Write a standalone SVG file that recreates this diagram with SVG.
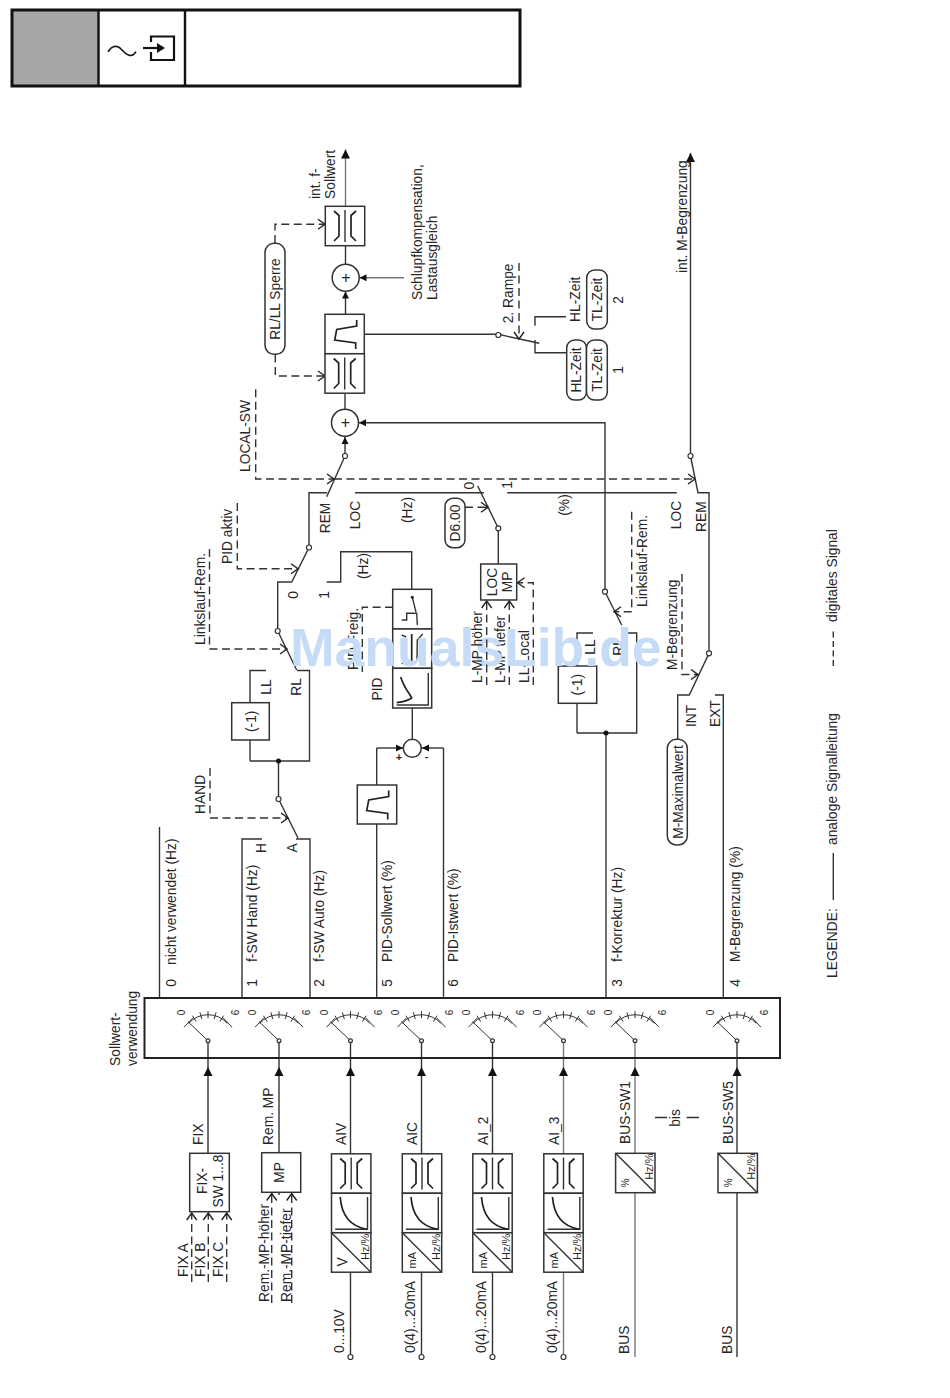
<svg xmlns="http://www.w3.org/2000/svg" width="950" height="1398" viewBox="0 0 950 1398">
<style>
text{font-family:"Liberation Sans",Arial,sans-serif;font-size:13.8px;fill:#262626}
.m{text-anchor:middle}
.s11{font-size:11px}.s10{font-size:10px}
.l,.d,.b,.k{fill:none;stroke:#333;stroke-width:1.4}
.g{stroke:#777}
.d{stroke-dasharray:8 4.5;stroke:#333}
.b{fill:#fff;stroke:#333;stroke-width:1.5}
.k{stroke-width:1.7;stroke:#222}
.o{fill:#fff;stroke:#333;stroke-width:1.2}
.wm{font-weight:bold;font-size:53.5px;fill:#c6dcf6}
</style>
<defs>
<marker id="af" markerUnits="userSpaceOnUse" markerWidth="10" markerHeight="10" refX="9" refY="5" orient="auto"><path d="M0,.5L9,5L0,9.5Z" fill="#111"/></marker>
<marker id="as" markerUnits="userSpaceOnUse" markerWidth="8" markerHeight="8" refX="7" refY="4" orient="auto"><path d="M0,.5L7,4L0,7.5Z" fill="#111"/></marker>
<marker id="ao" markerUnits="userSpaceOnUse" markerWidth="12" markerHeight="12" refX="9" refY="6" orient="auto"><path d="M2,1L9,6L2,11" fill="none" stroke="#222" stroke-width="1.4"/></marker>
<g id="sel">
<path class="l" d="M-19.3,-17.4A26,26 0 0 1 19.3,-17.4M0,0L-20,-19M-11.9,-19.1L-15.6,-25M-6.2,-21.6L-8.1,-28.4M0,-22.5V-29.5M6.2,-21.6L8.1,-28.4M11.9,-19.1L15.6,-25M-24,-13.500L-15,-23M24,-13.500L15,-23" style="stroke-width:1"/>
<circle class="o" r="1.9"/>
</g>
<g id="valve"><rect class="b" x="-19.7" y="-19.7" width="39.4" height="39.4"/><path class="k" d="M-11,-15L-6,-10.5V10L-11,15M11,-15L6,-10.5V10L11,15"/><path class="l" d="M0,-16V16"/></g>
<g id="curve"><rect class="b" x="-19.7" y="-19.7" width="39.4" height="39.4"/><path class="l" d="M16.3,-16V16.3H-16"/><path class="k" d="M-11,-16Q-9,12 15.7,16.3"/></g>
<g id="conv"><rect class="b" x="-19.7" y="-19.7" width="39.4" height="39.4"/><path class="l" d="M-19.7,-19.7L19.7,19.7"/></g>
<path id="ramp" class="k" d="M12,-14V-8L-8,-4.5L-10,6L11,9V15"/>
</defs>

<g id="header">
<rect x="12" y="10" width="86.5" height="76" fill="#a6a6a6"/>
<rect x="12" y="10" width="508" height="76" fill="none" stroke="#111" stroke-width="3"/>
<path d="M98.5,10V86M185,10V86" fill="none" stroke="#111" stroke-width="2.4"/>
<path d="M108,51.7C112,46 116,45 120,48C125,53 131,60 136,51.7" fill="none" stroke="#111" stroke-width="1.6"/>
<path d="M151,42V36.5H174V60H151V52" fill="none" stroke="#111" stroke-width="2.2"/>
<path d="M143,48H160" fill="none" stroke="#111" stroke-width="2.2"/><path d="M157,43L165,48L157,53Z" fill="#111"/>
</g>

<g id="connectors">
<path class="l" marker-end="url(#af)" d="M208,1153V1067"/><path class="l" d="M208,1067V1042"/>
<path class="l" marker-end="url(#af)" d="M279,1153V1067"/><path class="l" d="M279,1067V1042"/>
<path class="l" marker-end="url(#af)" d="M350.500,1154V1067"/><path class="l" d="M350.500,1067V1042"/>
<path class="l" marker-end="url(#af)" d="M421.500,1154V1067"/><path class="l" d="M421.500,1067V1042"/>
<path class="l" marker-end="url(#af)" d="M492.500,1154V1067"/><path class="l" d="M492.500,1067V1042"/>
<path class="l g" marker-end="url(#af)" d="M563.500,1154V1067"/><path class="l g" d="M563.500,1067V1042"/>
<path class="l g" marker-end="url(#af)" d="M635,1154V1067"/><path class="l g" d="M635,1067V1042"/>
<path class="l" marker-end="url(#af)" d="M737,1154V1067"/><path class="l" d="M737,1067V1042"/>
<path class="l" d="M350.500,1272V1355M421.500,1272V1355M492.500,1272V1355"/><path class="l g" d="M563.500,1272V1355M635,1193V1357"/><path class="l" d="M737,1193V1357"/>
<circle class="o" cx="350.500" cy="1357" r="2.500"/><circle class="o" cx="421.500" cy="1357" r="2.500"/><circle class="o" cx="492.500" cy="1357" r="2.500"/><circle class="o" cx="563.500" cy="1357" r="2.500"/>
<path class="l" d="M655,1117.500H667M686.700,1117.500H699"/>
<path class="d" marker-end="url(#ao)" d="M191.700,1282V1213"/><path class="d" marker-end="url(#ao)" d="M208.300,1282V1213"/><path class="d" marker-end="url(#ao)" d="M226.700,1282V1213"/>
<path class="d" marker-end="url(#ao)" d="M271.700,1303V1193.500"/><path class="d" marker-end="url(#ao)" d="M291.700,1303V1193.500"/><path class="l" d="M279,1192.500V1195"/>
<path class="l" d="M159.500,998V827"/>
<path class="l" d="M242,998V839H262"/>
<path class="l" d="M296,839H310V998"/>
<path class="l" d="M376.700,998V824M376.700,785V748"/><path class="l" marker-end="url(#as)" d="M376.700,748H403"/>
<path class="l" d="M443.500,998V748"/><path class="l" marker-end="url(#as)" d="M443.500,748H422"/>
<path class="l" d="M412.300,739V708"/>
<path class="l" d="M278.500,799L298,838M278.500,799V761"/>
<path class="d" marker-end="url(#ao)" d="M210,768V818H288"/>
<path class="l" d="M250,761H309.500V670.500H297M250,761V740M250,702.700V670.500H266"/>
<circle class="o" cx="278.500" cy="799" r="2.500"/><circle cx="278.500" cy="761" r="2.500" fill="#111"/>
<path class="l" d="M277.700,631L296.700,670M277.700,631V582H291.700L309,547.500V492.700H327"/>
<path class="d" marker-end="url(#ao)" d="M209.500,549V649H287"/>
<circle class="o" cx="277.700" cy="631" r="2.500"/>
<path class="d" marker-end="url(#ao)" d="M237.300,503V568.700H298"/>
<circle class="o" cx="309" cy="547.500" r="2.500"/>
<path class="l" d="M326.700,582H340.700V551.700H411.700V589.300"/>
<path class="l" d="M345,456L326.700,496.700"/>
<path class="l" marker-end="url(#as)" d="M345,456V437"/>
<circle class="o" cx="345" cy="456" r="2.500"/>
<path class="d" marker-end="url(#ao)" d="M255.700,389.300V479H334"/>
<path class="d" marker-end="url(#ao)" d="M334,479H695"/>
<path class="l" d="M355,492.700H484M507.300,492.700H676.700"/>
<path class="l" d="M477.700,486L498.300,528.300V564"/>
<circle class="o" cx="498.300" cy="528.300" r="2.500"/>
<path class="d" d="M465,507.300H484"/><path class="l" marker-end="url(#ao)" d="M484,507.300H488"/>
<path class="d" marker-end="url(#ao)" d="M509.300,685V601"/>
<path class="d" marker-end="url(#ao)" d="M533.300,685V582.700H517.500"/>
<path class="d" marker-end="url(#ao)" d="M362.300,672V607.300H413.500"/>
<path class="l" d="M606,998V733M577,733H636.700V633H628M577,733V703.300M577,666V633H593"/>
<path class="l" d="M605,591.700L621.700,625"/>
<path class="l" marker-end="url(#as)" d="M605,591.700V422.700H359"/>
<circle class="o" cx="605" cy="591.700" r="2.500"/><circle cx="606" cy="733" r="2.500" fill="#111"/>
<path class="d" marker-end="url(#ao)" d="M631.700,511.700V611.700H614"/>
<path class="l" d="M723.300,998V695H715M677.700,740V695H689.300L709,653.300V492.700H698L690.500,456"/>
<circle class="o" cx="709" cy="653.300" r="2.500"/>
<path class="l" marker-end="url(#af)" d="M690.500,456V153"/>
<circle class="o" cx="690.500" cy="456" r="2.500"/>
<path class="d" marker-end="url(#ao)" d="M682,574V674.500H698"/>
<path class="l" d="M345,409V393.300"/>
<path class="l" marker-end="url(#as)" d="M345.500,314.300V291.500"/>
<path class="l" d="M345.500,264V246"/>
<path class="l g" marker-end="url(#af)" d="M345.500,206V149.500"/>
<path class="l g" marker-end="url(#as)" d="M404,277.700H359.500"/>
<path class="d" marker-end="url(#ao)" d="M275,243V224.300H325"/>
<path class="d" marker-end="url(#ao)" d="M275.300,354.500V376H325"/>
<path class="l" d="M364.300,334.300H498.300L539.300,343.300"/>
<circle class="o" cx="498.300" cy="335" r="2.500"/>
<path class="l" d="M535,340V352.700H566.700M535,325.700V316.700H566"/>
<path class="d" marker-end="url(#ao)" d="M519,263V339"/>
<path class="l" d="M833.300,900V853"/>
<path class="d" style="stroke-dasharray:6 3.5" d="M833.300,666V631"/>
</g>

<g id="selector">
<rect class="b" x="144.500" y="998" width="635.500" height="60" style="stroke-width:2;stroke:#222;fill:none"/>
<use href="#sel" x="208" y="1040.700"/><use href="#sel" x="279" y="1040.700"/><use href="#sel" x="350.500" y="1040.700"/><use href="#sel" x="421.500" y="1040.700"/><use href="#sel" x="492.500" y="1040.700"/><use href="#sel" x="563.500" y="1040.700"/><use href="#sel" x="635" y="1040.700"/><use href="#sel" x="737" y="1040.700"/>
<text class="m s10" transform="translate(185,1012.500) rotate(-90)">0</text><text class="m s10" transform="translate(239,1012.500) rotate(-90)">6</text>
<text class="m s10" transform="translate(256,1012.500) rotate(-90)">0</text><text class="m s10" transform="translate(310,1012.500) rotate(-90)">6</text>
<text class="m s10" transform="translate(327.500,1012.500) rotate(-90)">0</text><text class="m s10" transform="translate(381.500,1012.500) rotate(-90)">6</text>
<text class="m s10" transform="translate(398.500,1012.500) rotate(-90)">0</text><text class="m s10" transform="translate(452.500,1012.500) rotate(-90)">6</text>
<text class="m s10" transform="translate(469.500,1012.500) rotate(-90)">0</text><text class="m s10" transform="translate(523.500,1012.500) rotate(-90)">6</text>
<text class="m s10" transform="translate(540.500,1012.500) rotate(-90)">0</text><text class="m s10" transform="translate(594.500,1012.500) rotate(-90)">6</text>
<text class="m s10" transform="translate(612,1012.500) rotate(-90)">0</text><text class="m s10" transform="translate(666,1012.500) rotate(-90)">6</text>
<text class="m s10" transform="translate(714,1012.500) rotate(-90)">0</text><text class="m s10" transform="translate(768,1012.500) rotate(-90)">6</text>
<text transform="translate(120,1066) rotate(-90)">Sollwert-</text><text transform="translate(137,1066) rotate(-90)">verwendung</text>
</g>

<g id="column-labels">
<text class="m" transform="translate(175.500,983) rotate(-90)">0</text><text transform="translate(175.500,965) rotate(-90)">nicht verwendet (Hz)</text>
<text class="m" transform="translate(256.500,983) rotate(-90)">1</text><text transform="translate(256.500,962) rotate(-90)">f-SW Hand (Hz)</text>
<text class="m" transform="translate(324,983) rotate(-90)">2</text><text transform="translate(324,962) rotate(-90)">f-SW Auto (Hz)</text>
<text class="m" transform="translate(391.700,983) rotate(-90)">5</text><text transform="translate(391.700,962) rotate(-90)">PID-Sollwert (%)</text>
<text class="m" transform="translate(458,983) rotate(-90)">6</text><text transform="translate(458,962) rotate(-90)">PID-Istwert (%)</text>
<text class="m" transform="translate(621.700,983) rotate(-90)">3</text><text transform="translate(621.700,962) rotate(-90)">f-Korrektur (Hz)</text>
<text class="m" transform="translate(740,983) rotate(-90)">4</text><text transform="translate(740,962) rotate(-90)">M-Begrenzung (%)</text>
</g>

<g id="fix-block">
<rect class="b" x="189.700" y="1153.300" width="39.600" height="58.400"/>
<text class="m" transform="translate(206.500,1181) rotate(-90)">FIX-</text><text class="m" transform="translate(223,1181) rotate(-90)">SW 1...8</text>
<text transform="translate(202.700,1145) rotate(-90)">FIX</text>
<text transform="translate(188.300,1277) rotate(-90)">FIX A</text><text transform="translate(205,1277) rotate(-90)">FIX B</text><text transform="translate(223.300,1277) rotate(-90)">FIX C</text>
</g>
<g id="mp-block">
<rect class="b" x="261.700" y="1152.700" width="39" height="39.600"/>
<text class="m" transform="translate(284,1172.500) rotate(-90)">MP</text>
<text transform="translate(273.300,1145) rotate(-90)">Rem. MP</text>
<text transform="translate(269,1302) rotate(-90)">Rem.-MP-höher</text><text transform="translate(290.700,1302) rotate(-90)">Rem.-MP-tiefer</text>
</g>

<g id="input-aiv">
<use href="#valve" x="351.200" y="1173.500"/><use href="#curve" x="351.200" y="1213"/><use href="#conv" x="351.200" y="1252.500"/>
<text class="m" transform="translate(347,1261.800) rotate(-90)">V</text><text class="m s11" transform="translate(369,1246.800) rotate(-90)">Hz/%</text>
<text transform="translate(345.700,1145) rotate(-90)">AIV</text><text transform="translate(344,1353) rotate(-90)">0...10V</text>
</g>
<g id="input-aic">
<use href="#valve" x="422" y="1173.500"/><use href="#curve" x="422" y="1213"/><use href="#conv" x="422" y="1252.500"/>
<text class="m s11" transform="translate(416,1260.200) rotate(-90)">mA</text><text class="m s11" transform="translate(439.800,1246.800) rotate(-90)">Hz/%</text>
<text transform="translate(416.700,1145) rotate(-90)">AIC</text><text transform="translate(415,1353) rotate(-90)">0(4)...20mA</text>
</g>
<g id="input-ai2">
<use href="#valve" x="492.500" y="1173.500"/><use href="#curve" x="492.500" y="1213"/><use href="#conv" x="492.500" y="1252.500"/>
<text class="m s11" transform="translate(486.500,1260.200) rotate(-90)">mA</text><text class="m s11" transform="translate(510.300,1246.800) rotate(-90)">Hz/%</text>
<text transform="translate(488,1145) rotate(-90)">AI_2</text><text transform="translate(486,1353) rotate(-90)">0(4)...20mA</text>
</g>
<g id="input-ai3">
<use href="#valve" x="563.500" y="1173.500"/><use href="#curve" x="563.500" y="1213"/><use href="#conv" x="563.500" y="1252.500"/>
<text class="m s11" transform="translate(557.500,1260.200) rotate(-90)">mA</text><text class="m s11" transform="translate(581.300,1246.800) rotate(-90)">Hz/%</text>
<text transform="translate(559,1145) rotate(-90)">AI_3</text><text transform="translate(557,1353) rotate(-90)">0(4)...20mA</text>
</g>
<g id="input-bus1">
<use href="#conv" x="635.300" y="1173"/>
<text class="m s10" transform="translate(629.300,1182.700) rotate(-90)">%</text><text class="m s11" transform="translate(652.600,1166.700) rotate(-90)">Hz/%</text>
<text transform="translate(630,1144) rotate(-90)">BUS-SW1</text><text transform="translate(629,1354) rotate(-90)">BUS</text>
<text class="m" transform="translate(680,1118) rotate(-90)">bis</text>
</g>
<g id="input-bus5">
<use href="#conv" x="737.700" y="1173"/>
<text class="m s10" transform="translate(731.700,1182.700) rotate(-90)">%</text><text class="m s11" transform="translate(755,1166.700) rotate(-90)">Hz/%</text>
<text transform="translate(732.700,1144) rotate(-90)">BUS-SW5</text><text transform="translate(731.700,1354) rotate(-90)">BUS</text>
</g>

<g id="hand-switch">
<text class="m" transform="translate(266,848) rotate(-90)">H</text><text class="m" transform="translate(296.700,848) rotate(-90)">A</text>
<text transform="translate(205,814) rotate(-90)">HAND</text>
</g>
<g id="negate-1">
<rect class="b" x="231.700" y="702.700" width="37.600" height="37.300"/>
<text class="m" transform="translate(255.500,721.300) rotate(-90)">(-1)</text>
<text class="m" transform="translate(270.700,687) rotate(-90)">LL</text><text class="m" transform="translate(300.700,687) rotate(-90)">RL</text>
</g>
<g id="rl-switch-labels">
<text transform="translate(205,645) rotate(-90)">Linkslauf-Rem.</text>
<text transform="translate(231.700,564) rotate(-90)">PID aktiv</text>
<text class="m" transform="translate(298.300,595) rotate(-90)">0</text><text class="m" transform="translate(329,595) rotate(-90)">1</text>
<text class="m" transform="translate(330,518) rotate(-90)">REM</text><text class="m" transform="translate(360,515) rotate(-90)">LOC</text>
<text class="m" transform="translate(411.700,510) rotate(-90)">(Hz)</text><text class="m" transform="translate(368,566) rotate(-90)">(Hz)</text>
<text class="m" transform="translate(569,505) rotate(-90)">(%)</text>
<text transform="translate(250,472) rotate(-90)">LOCAL-SW</text>
</g>
<g id="pid-setpoint-ramp">
<rect class="b" x="357.300" y="785" width="39.400" height="39"/><use href="#ramp" x="376.700" y="804.500"/>
</g>
<g id="pid-sum">
<circle class="b" cx="412.300" cy="748.300" r="9"/>
<text class="m" style="font-weight:bold;font-size:11px" x="399" y="761">+</text><text class="m" style="font-weight:bold;font-size:11px" x="426.500" y="760">-</text>
</g>
<g id="pid-block">
<rect class="b" x="392.700" y="589.300" width="39" height="39.700"/>
<rect class="b" x="392.700" y="629" width="39" height="39.300"/>
<rect class="b" x="392.700" y="668.300" width="39" height="39.700"/>
<path class="l" d="M401.700,620H406.700V613.300H416.700L417.300,625M412.300,597.300L416,612"/><circle cx="412.300" cy="597.300" r="1.500" fill="#222"/>
<path class="k" d="M411.700,634V663"/><path class="l" d="M422.700,634L417.300,640L417,660M401.700,635L406,637M401.700,664L406,661"/>
<path class="l" d="M428.300,673V705H396.700"/><path class="k" d="M400.700,677C404,688 410,694 411.700,698C409,700 402,702 396.700,702.700"/>
<text class="m" transform="translate(382.300,689) rotate(-90)">PID</text>
<text transform="translate(358,670) rotate(-90)">PID Freig.</text>
</g>
<g id="d600">
<rect class="b" x="445" y="498.300" width="20" height="49.400" rx="8"/>
<text class="m" transform="translate(460,523) rotate(-90)">D6.00</text>
<text class="m" transform="translate(474,485.700) rotate(-90)">0</text><text class="m" transform="translate(511.700,485) rotate(-90)">1</text>
</g>
<g id="loc-mp">
<rect class="b" x="480.700" y="564" width="36" height="36"/>
<text class="m" transform="translate(496.700,582) rotate(-90)">LOC</text><text class="m" transform="translate(511.700,582) rotate(-90)">MP</text>
<text transform="translate(505,683) rotate(-90)">L-MP tiefer</text><text transform="translate(529,683) rotate(-90)">LL-Local</text>
</g>
<g id="f-correction">
<rect class="b" x="558.300" y="666" width="38.400" height="37.300"/>
<text class="m" transform="translate(582,684.700) rotate(-90)">(-1)</text>
<text class="m" transform="translate(622.700,647) rotate(-90)">RL</text>
<text transform="translate(646.700,607) rotate(-90)">Linkslauf-Rem.</text>
</g>
<g id="m-limit">
<rect class="b" x="667.300" y="739.300" width="20" height="105.700" rx="9"/>
<text class="m" transform="translate(682.500,792) rotate(-90)">M-Maximalwert</text>
<text transform="translate(695.700,727) rotate(-90)">INT</text><text transform="translate(720,727) rotate(-90)">EXT</text>
<text transform="translate(677,670) rotate(-90)">M-Begrenzung</text>
<text class="m" transform="translate(680.700,515) rotate(-90)">LOC</text><text class="m" transform="translate(705.700,516.700) rotate(-90)">REM</text>
<text transform="translate(687,273) rotate(-90)">int. M-Begrenzung</text>
</g>
<g id="ramp-valve">
<rect class="b" x="325" y="314.300" width="39.300" height="39.400"/><use href="#ramp" x="344.700" y="334"/>
<use href="#valve" x="344.700" y="373.500"/>
</g>
<g id="sum-main"><circle class="b" cx="345" cy="422.700" r="13.500"/><text class="m" style="font-size:16px" x="345.500" y="428">+</text></g>
<g id="sum-top"><circle class="b" cx="345.700" cy="277.700" r="13.500"/><text class="m" style="font-size:16px" x="346" y="283">+</text></g>
<g id="valve-top"><use href="#valve" x="345" y="226"/>
<text transform="translate(320,199) rotate(-90)">int. f-</text><text transform="translate(335,199) rotate(-90)">Sollwert</text>
<text transform="translate(421.700,300) rotate(-90)">Schlupfkompensation,</text><text transform="translate(436.700,300) rotate(-90)">Lastausgleich</text>
</g>
<g id="rl-sperre">
<rect class="b" x="265" y="243.300" width="20" height="111" rx="9"/>
<text class="m" transform="translate(280,299) rotate(-90)">RL/LL Sperre</text>
</g>
<g id="ramp-times">
<rect class="b" x="566.700" y="340" width="19.800" height="60" rx="8"/><rect class="b" x="586.500" y="340" width="20.800" height="60" rx="8"/>
<rect class="b" x="586.700" y="270" width="20.600" height="59" rx="8"/>
<text class="m" transform="translate(581,370) rotate(-90)">HL-Zeit</text><text class="m" transform="translate(602.300,370) rotate(-90)">TL-Zeit</text>
<text class="m" transform="translate(580,299.300) rotate(-90)">HL-Zeit</text><text class="m" transform="translate(602.300,299.500) rotate(-90)">TL-Zeit</text>
<text class="m" transform="translate(623,300) rotate(-90)">2</text><text class="m" transform="translate(623,370) rotate(-90)">1</text>
<text transform="translate(513.300,323.300) rotate(-90)">2. Rampe</text>
</g>
<g id="legend">
<text transform="translate(836.700,978) rotate(-90)">LEGENDE:</text>
<text transform="translate(836.700,845) rotate(-90)">analoge Signalleitung</text>
<text transform="translate(836.700,622) rotate(-90)">digitales Signal</text>
</g>
<text class="wm" x="290" y="666">ManualsLib.de</text>
<g id="above-watermark">
<path class="d" marker-end="url(#ao)" d="M486.700,685V601"/>
<text transform="translate(481.700,683) rotate(-90)">L-MP höher</text>
<text class="m" transform="translate(595,647) rotate(-90)">LL</text>
</g>
</svg>
